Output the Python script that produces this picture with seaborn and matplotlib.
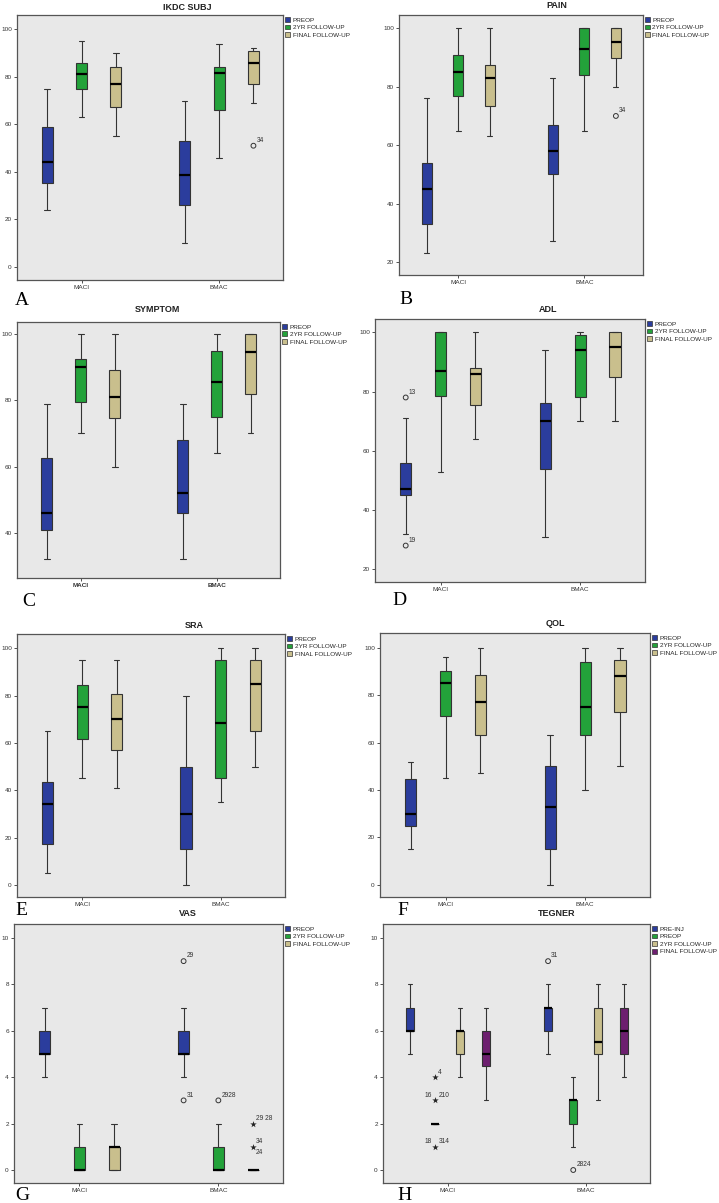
import numpy as np
import pandas as pd
import matplotlib.pyplot as plt
import seaborn as sns
from matplotlib.patches import Patch

W, H = 719, 1203

groups = ["MACI", "BMAC"]
phases = ["PREOP", "2YR FOLLOW-UP", "FINAL FOLLOW-UP"]
tegner_phases = ["PRE-INJ", "PREOP", "2YR FOLLOW-UP", "FINAL FOLLOW-UP"]

# each box: low whisker, Q1, median, Q3, high whisker -> [MACI, BMAC]
ikdc = {
    "PREOP": [[24, 35.5, 44, 59, 75], [10, 26, 38.5, 53, 70]],
    "2YR FOLLOW-UP": [[63, 75, 81, 86, 95], [46, 66, 81.5, 84, 94]],
    "FINAL FOLLOW-UP": [[55, 67.5, 77, 84, 90], [69, 77, 86, 91, 92]],
}
pain = {
    "PREOP": [[23, 33, 45, 54, 76], [27, 50, 58, 67, 83]],
    "2YR FOLLOW-UP": [[65, 77, 85, 91, 100], [65, 84, 93, 100, 100]],
    "FINAL FOLLOW-UP": [[63, 73.5, 83, 87.5, 100], [80, 90, 95.5, 100, 100]],
}
symptom = {
    "PREOP": [[32, 41, 46, 62.5, 79], [32, 46, 52, 68, 79]],
    "2YR FOLLOW-UP": [[70, 79.5, 90, 92.5, 100], [64, 75, 85.5, 95, 100]],
    "FINAL FOLLOW-UP": [[60, 74.5, 81, 89, 100], [70, 82, 94.5, 100, 100]],
}
adl = {
    "PREOP": [[32, 45, 47, 56, 71], [31, 54, 70, 76, 94]],
    "2YR FOLLOW-UP": [[53, 78.5, 87, 100, 100], [70, 78, 94, 99, 100]],
    "FINAL FOLLOW-UP": [[64, 75.5, 86, 88, 100], [70, 85, 95, 100, 100]],
}
sra = {
    "PREOP": [[5, 17.5, 34, 43.5, 65], [0, 15, 30, 50, 80]],
    "2YR FOLLOW-UP": [[45, 61.5, 75, 84.5, 95], [35, 45, 68.5, 95, 100]],
    "FINAL FOLLOW-UP": [[41, 57, 70, 80.5, 95], [50, 65, 85, 95, 100]],
}
qol = {
    "PREOP": [[15, 25, 30, 44.5, 52], [0, 15, 33, 50, 63]],
    "2YR FOLLOW-UP": [[45, 71, 85, 90, 96], [40, 63, 75, 94, 100]],
    "FINAL FOLLOW-UP": [[47, 63, 77, 88.5, 100], [50, 73, 88, 95, 100]],
}
vas = {
    "PREOP": [[4, 5, 5, 6, 7], [4, 5, 5, 6, 7]],
    "2YR FOLLOW-UP": [[0, 0, 0, 1, 2], [0, 0, 0, 1, 2]],
    "FINAL FOLLOW-UP": [[0, 0, 1, 1, 2], [0, 0, 0, 0, 0]],
}
tegner = {
    "PRE-INJ": [[5, 6, 6, 7, 8], [5, 6, 7, 7, 8]],
    "PREOP": [[2, 2, 2, 2, 2], [1, 2, 3, 3, 4]],
    "2YR FOLLOW-UP": [[4, 5, 6, 6, 7], [3, 5, 5.5, 7, 8]],
    "FINAL FOLLOW-UP": [[3, 4.5, 5, 6, 7], [4, 5, 6, 7, 8]],
}

# outliers: group, phase, value, kind (o = outlier, * = extreme), case label
ikdc_out = [("BMAC", "FINAL FOLLOW-UP", 51, "o", "34")]
pain_out = [("BMAC", "FINAL FOLLOW-UP", 70, "o", "34")]
adl_out = [("MACI", "PREOP", 78, "o", "13"), ("MACI", "PREOP", 28, "o", "19")]
vas_out = [
    ("BMAC", "PREOP", 9, "o", "29"),
    ("BMAC", "PREOP", 3, "o", "31"),
    ("BMAC", "2YR FOLLOW-UP", 3, "o", "2928"),
    ("BMAC", "FINAL FOLLOW-UP", 2, "*", "29 28"),
    ("BMAC", "FINAL FOLLOW-UP", 1, "*", "34\n24"),
]
tegner_out = [
    ("MACI", "PREOP", 4, "*", "4"),
    ("MACI", "PREOP", 3, "*", "16|210"),
    ("MACI", "PREOP", 1, "*", "18|314"),
    ("BMAC", "PRE-INJ", 9, "o", "31"),
    ("BMAC", "PREOP", 0, "o", "2824"),
]

colors = ["#2b3d9d", "#23a23a", "#c9bf8d"]
tegner_colors = ["#2b3d9d", "#23a23a", "#c9bf8d", "#6d1f6f"]

sns.set_theme(style="ticks")
plt.rcParams["font.family"] = ["Liberation Sans", "DejaVu Sans"]


def px_rect(x0, y0, x1, y1):
    return [x0 / W, 1 - y1 / H, (x1 - x0) / W, (y1 - y0) / H]


def long_form(stats, order):
    rows = []
    for phase in order:
        for g, five in zip(groups, stats[phase]):
            for v in five:
                rows.append((g, phase, v))
    return pd.DataFrame(rows, columns=["group", "phase", "score"])


panels = [
    dict(rect=(17, 15, 283, 280), title="IKDC SUBJ", tpos=(187, 8), stats=ikdc, out=ikdc_out,
         ylim=(-5.5, 106), yticks=range(0, 101, 20), letter="A", lpos=(15, 305)),
    dict(rect=(399, 15, 643, 275), title="PAIN", tpos=(557, 6), stats=pain, out=pain_out,
         ylim=(15.5, 104.6), yticks=range(20, 101, 20), letter="B", lpos=(399, 304)),
    dict(rect=(17, 322, 280, 578), title="SYMPTOM", tpos=(157, 310), stats=symptom, out=[],
         ylim=(26.4, 103.6), yticks=range(40, 101, 20), letter="C", lpos=(22, 606), bold_x=True),
    dict(rect=(375, 319, 645, 582), title="ADL", tpos=(548, 309), stats=adl, out=adl_out,
         ylim=(15.7, 104.5), yticks=range(20, 101, 20), letter="D", lpos=(392, 605)),
    dict(rect=(17, 634, 285, 897), title="SRA", tpos=(194, 625), stats=sra, out=[],
         ylim=(-5.1, 106), yticks=range(0, 101, 20), letter="E", lpos=(15, 915)),
    dict(rect=(380, 633, 650, 897), title="QOL", tpos=(555, 623), stats=qol, out=[],
         ylim=(-5.1, 106.2), yticks=range(0, 101, 20), letter="F", lpos=(397, 915)),
    dict(rect=(14, 924, 283, 1183), title="VAS", tpos=(188, 913), stats=vas, out=vas_out,
         ylim=(-0.56, 10.6), yticks=range(0, 11, 2), letter="G", lpos=(15, 1200)),
    dict(rect=(383, 924, 650, 1183), title="TEGNER", tpos=(557, 913), stats=tegner, out=tegner_out,
         ylim=(-0.56, 10.6), yticks=range(0, 11, 2), letter="H", lpos=(397, 1200),
         order=tegner_phases),
]

fig = plt.figure(figsize=(W / 100, H / 100), dpi=100)

for p in panels:
    order = p.get("order", phases)
    pal = tegner_colors if len(order) == 4 else colors
    width = 0.73 if len(order) == 4 else 0.75
    ax = fig.add_axes(px_rect(*p["rect"]))
    ax.set_facecolor("#e8e8e8")
    df = long_form(p["stats"], order)
    sns.boxplot(data=df, x="group", y="score", hue="phase", order=groups, hue_order=order,
                palette=pal, saturation=1, width=width, gap=0.68, whis=(0, 100),
                fliersize=0, linewidth=0.8, linecolor="#333333",
                medianprops=dict(color="black", linewidth=1.6), legend=False, ax=ax)

    slot = width / len(order)
    for g, phase, v, kind, label in p["out"]:
        x = groups.index(g) + (order.index(phase) - (len(order) - 1) / 2) * slot
        if kind == "o":
            ax.scatter([x], [v], s=12, marker="o", facecolors="none", edgecolors="#333333",
                       linewidths=0.7, zorder=5)
        else:
            ax.scatter([x], [v], s=24, marker="*", color="#222222", linewidths=0, zorder=5)
        left, _, right = label.rpartition("|")
        multi = "\n" in right
        ax.annotate(right, (x, v), xytext=(2.2, 0 if multi else 1.2), textcoords="offset points",
                    fontsize=4.8, ha="left", va="center" if multi else "bottom", linespacing=1.7,
                    color="#333333")
        if left:
            ax.annotate(left, (x, v), xytext=(-2.2, 1.2), textcoords="offset points",
                        fontsize=4.8, ha="right", va="bottom", color="#333333")

    ax.set_xlim(-0.47, 1.465)
    ax.set_ylim(p["ylim"])
    ax.set_yticks(list(p["yticks"]))
    ax.set_xlabel("")
    ax.set_ylabel("")
    ax.tick_params(labelsize=4.6, length=2.2, width=0.6, pad=1.5, colors="#333333")
    if p.get("bold_x"):
        for t in ax.get_xticklabels():
            t.set_fontweight("bold")
    for s in ax.spines.values():
        s.set_visible(True)
        s.set_color("#555555")
        s.set_linewidth(0.9)

    handles = [Patch(facecolor=c, edgecolor="#333333", linewidth=0.5, label=ph)
               for c, ph in zip(pal, order)]
    ax.legend(handles=handles, loc="upper left", bbox_to_anchor=(1.006, 0.995), frameon=False,
              fontsize=4.6, handlelength=0.8, handleheight=0.8, handletextpad=0.35,
              labelspacing=0.3, borderaxespad=0, borderpad=0.1)

    fig.text(p["tpos"][0] / W, 1 - p["tpos"][1] / H, p["title"], ha="center", va="center",
             fontsize=6.5, fontweight="bold", color="#222222")
    fig.text(p["lpos"][0] / W, 1 - p["lpos"][1] / H, p["letter"], ha="left", va="baseline",
             fontsize=14, family=["Liberation Serif", "DejaVu Serif"], color="black")

fig.savefig("out.png", dpi=100)
